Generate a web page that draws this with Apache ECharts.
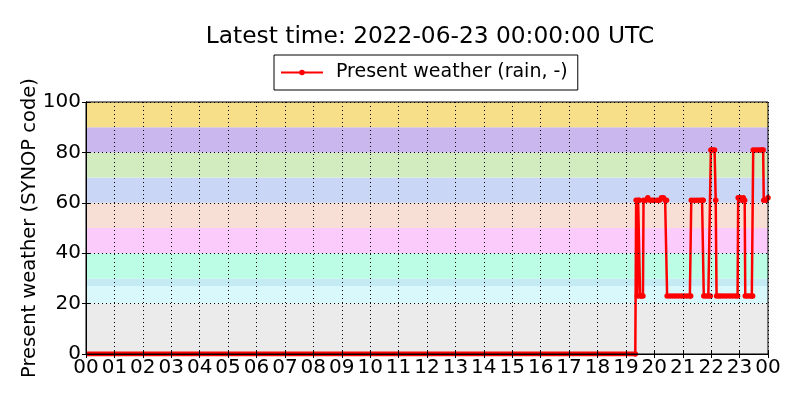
<!DOCTYPE html>
<html>
<head>
<meta charset="utf-8">
<script src="https://cdn.jsdelivr.net/npm/echarts@6/dist/echarts.min.js"></script>
<style>
html,body{margin:0;padding:0;background:#fff;}
#c{width:800px;height:400px;}
</style>
</head>
<body>
<div id="c"></div>
<script>
// ---- data ----
var titleText = 'Latest time: 2022-06-23 00:00:00 UTC';
var seriesName = 'Present weather (rain, -)';
var yAxisName = 'Present weather (SYNOP code)';
var xTickLabels = ['00','01','02','03','04','05','06','07','08','09','10','11','12','13','14','15','16','17','18','19','20','21','22','23','00'];
// background bands of SYNOP code groups
var bandLow  = [0, 20, 27, 30, 40, 50, 60, 70, 80, 90];
var bandHigh = [20, 27, 30, 40, 50, 60, 70, 80, 90, 100];
var bandColors = ['#ebebeb','#d9f8fc','#c4eaf3','#bcfde6','#fbcbfb','#f8dfd6','#c9d6f5','#d2ecc0','#c9b7ed','#f7df8a'];
// time in hours since 00 UTC
var zeroTimes = [0, 19.33];
var zeroValues = [0, 0];
var wxTimes = [19.33,19.36,19.40,19.43,19.47,19.50,19.55,19.60,19.62,19.70,19.77,19.85,19.93,20.00,20.10,20.18,20.25,20.32,20.38,20.43,
  20.45,20.55,20.65,20.75,20.85,20.95,21.05,21.15,21.25,21.28,
  21.30,21.40,21.50,21.60,21.68,21.72,
  21.74,21.82,21.90,21.97,
  21.99,22.05,22.12,22.16,
  22.19,22.27,22.35,22.45,22.55,22.65,22.75,22.85,22.93,
  22.95,23.02,23.08,23.13,23.18,
  23.20,23.27,23.35,23.43,23.46,
  23.48,23.57,23.65,23.73,23.80,23.83,
  23.85,23.93,24.00];
var wxValues = [0,61,23,61,61,23,23,23,61,61,62,61,61,61,61,61,62,62,61,61,
  23,23,23,23,23,23,23,23,23,23,
  61,61,61,61,61,61,
  23,23,23,23,
  81,81,81,61,
  23,23,23,23,23,23,23,23,23,
  62,62,61,62,61,
  23,23,23,23,23,
  81,81,81,81,81,81,
  61,61,62];

// ---- build ----
function pairs(t, v){ var o=[]; for (var i=0;i<t.length;i++) o.push([t[i], v[i]]); return o; }
var bands = [];
for (var i=0;i<bandLow.length;i++){
  bands.push([{yAxis: bandLow[i], xAxis: 0, itemStyle:{color: bandColors[i], opacity:1}}, {yAxis: bandHigh[i], xAxis: 24}]);
}
var FONT = 'DejaVu Sans';
var grid = {left:86, right:32, top:102, bottom:46, show:true, borderColor:'#000', borderWidth:1, backgroundColor:'transparent', z:10};
var chart = echarts.init(document.getElementById('c'), null, {renderer:'canvas'});
chart.setOption({
  animation:false,
  backgroundColor:'#fff',
  title:{text:titleText, left:425, top:20, textAlign:'center',
    textStyle:{fontFamily:FONT, fontSize:23.3, fontWeight:'normal', color:'#000'}},
  legend:{data:[seriesName], left:274, top:55, height:34,
    borderColor:'#000', borderWidth:1, borderRadius:0, padding:[8,10,8,6],
    itemWidth:42, itemHeight:7, itemGap:10,
    textStyle:{fontFamily:FONT, fontSize:19, color:'#000', padding:[0,0,0,8]}},
  grid:grid,
  xAxis:[{type:'value', min:0, max:24, interval:1, z:10,
    axisLine:{show:true, lineStyle:{color:'#000', width:1}},
    axisTick:{show:true, inside:true, length:4, lineStyle:{color:'#000'}},
    axisLabel:{margin:4, fontFamily:FONT, fontSize:20, color:'#000',
      formatter:function(v){ return xTickLabels[Math.round(v)]; }},
    splitLine:{show:true, lineStyle:{color:'#000', type:[1,3], width:1}}},
    {type:'value', position:'top', min:0, max:24, interval:1, z:10,
    axisLine:{show:true, lineStyle:{color:'#000'}},
    axisTick:{show:true, inside:true, length:4, lineStyle:{color:'#000'}},
    axisLabel:{show:false}, splitLine:{show:false}}],
  yAxis:[{type:'value', min:0, max:100, interval:20, z:10,
    name:yAxisName, nameLocation:'middle', nameGap:46, nameMoveOverlap:false,
    nameTextStyle:{fontFamily:FONT, fontSize:19.5, color:'#000'},
    axisLine:{show:true, lineStyle:{color:'#000', width:1}},
    axisTick:{show:true, inside:true, length:4, lineStyle:{color:'#000'}},
    axisLabel:{margin:5, fontFamily:FONT, fontSize:20, color:'#000'},
    splitLine:{show:true, lineStyle:{color:'#000', type:[1,3], width:1}}},
    {type:'value', position:'right', min:0, max:100, interval:20, z:10,
    axisLine:{show:true, lineStyle:{color:'#000'}},
    axisTick:{show:true, inside:true, length:4, lineStyle:{color:'#000'}},
    axisLabel:{show:false}, splitLine:{show:false}}],
  series:[
    {type:'line', name:'bands', data:[], silent:true, z:0,
      markArea:{silent:true, data:bands, z:0}},
    {type:'line', name:seriesName, data:pairs(zeroTimes, zeroValues), showSymbol:false, symbol:'none',
      lineStyle:{color:'#ff0000', width:5}, itemStyle:{color:'#ff0000'}, z:3},
    {type:'line', name:seriesName, data:pairs(wxTimes, wxValues), symbol:'circle', symbolSize:5.5, showSymbol:true,
      lineStyle:{color:'#ff0000', width:2.5}, itemStyle:{color:'#ff0000', borderWidth:0}, z:4}
  ]
});
</script>
</body>
</html>
